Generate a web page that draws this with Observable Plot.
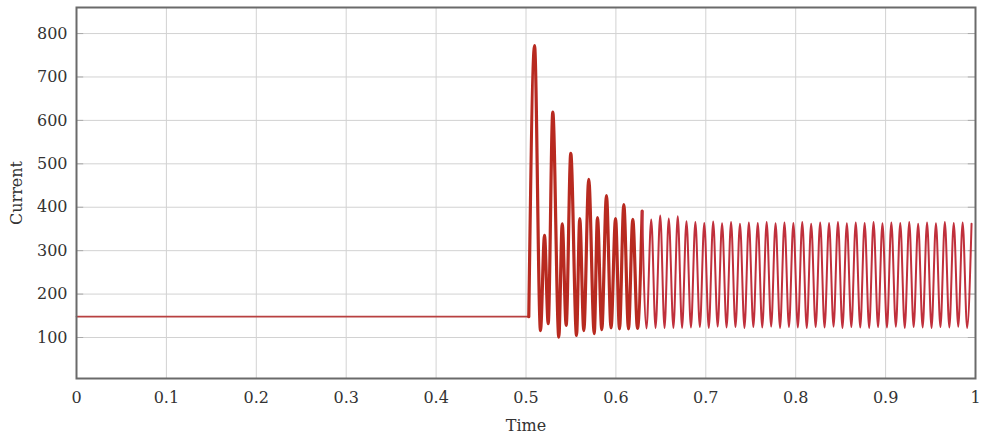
<!DOCTYPE html>
<html>
<head>
<meta charset="utf-8">
<script src="https://cdn.jsdelivr.net/npm/d3@7"></script>
<script src="https://cdn.jsdelivr.net/npm/@observablehq/plot@0.6"></script>
<style>
  html, body { margin: 0; padding: 0; background: #fff; }
  #chart { width: 982px; height: 436px; }
</style>
</head>
<body>
<div id="chart"></div>
<script>
// Tick values
const xTicks = [0, 0.1, 0.2, 0.3, 0.4, 0.5, 0.6, 0.7, 0.8, 0.9, 1];
const yTicks = [100, 200, 300, 400, 500, 600, 700, 800];

// Current waveform (turning points)
const time = [
  0, 0.5031,
  0.5095, 0.5161, 0.5206, 0.5247, 0.5298, 0.5365, 0.5403, 0.5447,
  0.5498, 0.5562, 0.5598, 0.5643, 0.5698, 0.5759, 0.5795, 0.5843,
  0.5895, 0.5946, 0.5996, 0.6040, 0.6088, 0.6140, 0.6188, 0.6240,
  0.6292, 0.6340, 0.6393, 0.6441, 0.6493, 0.6541, 0.6588, 0.6640,
  0.6688, 0.6736, 0.6785,
  0.6835, 0.6884, 0.6934, 0.6983, 0.7033, 0.7082, 0.7132, 0.7181,
  0.7231, 0.7281, 0.7330, 0.7380, 0.7430, 0.7479, 0.7529, 0.7578,
  0.7628, 0.7677, 0.7727, 0.7776, 0.7826, 0.7875, 0.7925, 0.7974,
  0.8024, 0.8073, 0.8123, 0.8172, 0.8222, 0.8272, 0.8321, 0.8371,
  0.8421, 0.8470, 0.8520, 0.8569, 0.8619, 0.8668, 0.8718, 0.8767,
  0.8817, 0.8866, 0.8916, 0.8965, 0.9015, 0.9064, 0.9114, 0.9163,
  0.9213, 0.9263, 0.9312, 0.9362, 0.9412, 0.9461, 0.9511, 0.9560,
  0.9610, 0.9659, 0.9709, 0.9758, 0.9808, 0.9857, 0.9907, 0.9956
];
const current = [
  148, 148,
  772, 116, 335, 132, 619, 101, 362, 128,
  524, 105, 374, 116, 464, 109, 376, 118,
  427, 122, 374, 120, 406, 120, 372, 121,
  391, 121, 372, 122, 381, 122, 374, 122,
  379, 122, 368,
  123, 366, 124, 364, 122, 367, 125, 363,
  123, 366, 124, 362, 122, 365, 124, 364,
  123, 366, 125, 363, 122, 365, 124, 364,
  123, 366, 122, 362, 124, 365, 123, 364,
  125, 366, 122, 363, 124, 365, 123, 364,
  122, 366, 124, 363, 123, 365, 125, 364,
  122, 366, 124, 362, 123, 365, 122, 363,
  124, 366, 123, 364, 125, 365, 122, 362
];

const data = time.map((t, i) => ({t, v: current[i]}));
const flat = data.filter(d => d.t <= 0.5031);
const transient = data.filter(d => d.t >= 0.5031 && d.t <= 0.6292);
const steady = data.filter(d => d.t >= 0.6292);

const chart = Plot.plot({
  width: 982,
  height: 436,
  marginLeft: 76,
  marginRight: 7,
  marginTop: 7,
  marginBottom: 58,
  style: {fontFamily: "'DejaVu Serif', serif", fontSize: "16px", color: "#333", background: "#fff"},
  x: {domain: [0, 1]},
  y: {domain: [5.6, 860]},
  marks: [
    Plot.ruleX(xTicks, {stroke: "#d2d2d2", strokeWidth: 1}),
    Plot.ruleY(yTicks, {stroke: "#d2d2d2", strokeWidth: 1}),
    Plot.ruleY(yTicks, {x1: 0, x2: 0.008, stroke: "#aaa"}),
    Plot.ruleY(yTicks, {x1: 0.992, x2: 1, stroke: "#aaa"}),
    Plot.line(flat, {x: "t", y: "v", stroke: "#b84040", strokeWidth: 1.6}),
    Plot.line(transient, {x: "t", y: "v", stroke: "#b82a20", strokeWidth: 3.2, strokeLinejoin: "round", curve: "monotone-x"}),
    Plot.line(steady, {x: "t", y: "v", stroke: "#c0303c", strokeWidth: 2, strokeLinejoin: "round", curve: "monotone-x"}),
    Plot.frame({stroke: "#6a6a6a", strokeWidth: 2}),
    Plot.axisX({ticks: xTicks, tickSize: 0, tickPadding: 13, tickFormat: d => String(+d.toFixed(1)),
      label: "Time", labelAnchor: "center", labelArrow: "none", labelOffset: 52, fill: "#333"}),
    Plot.axisY({ticks: yTicks, tickSize: 0, tickPadding: 9,
      label: "Current", labelAnchor: "center", labelArrow: "none", labelOffset: 66, fill: "#333"})
  ]
});
document.getElementById("chart").appendChild(chart);
</script>
</body>
</html>
